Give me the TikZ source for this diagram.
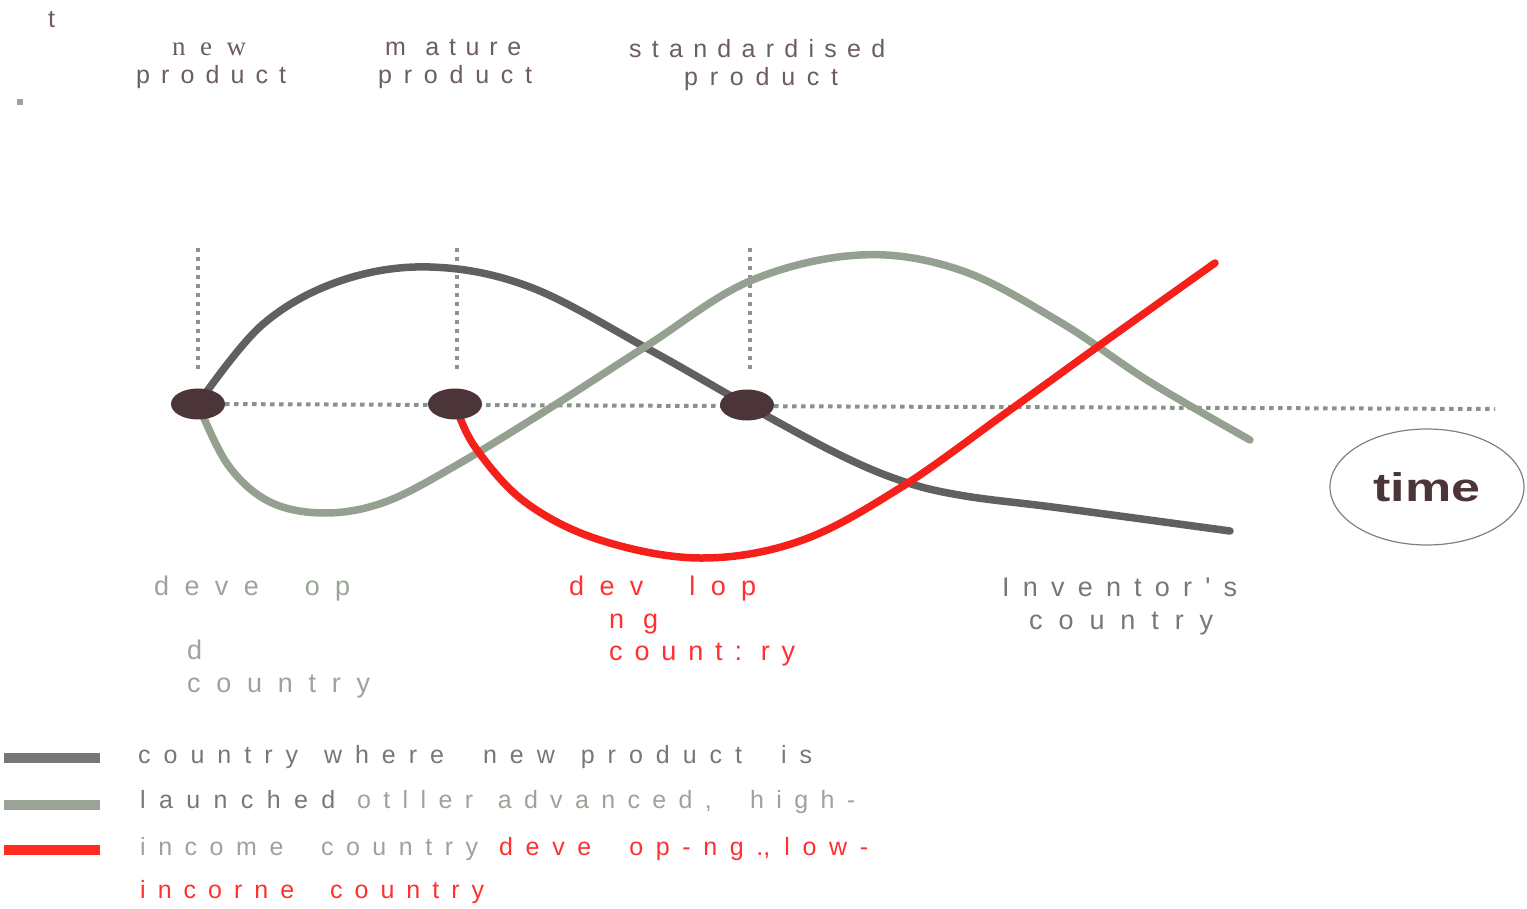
\documentclass[tikz,border=0pt]{standalone}
\usepackage{fontspec}
\usepackage{graphicx}
\usetikzlibrary{shapes.geometric}
\setmainfont{Liberation Sans}
\newfontfamily\serifx{Liberation Serif}
\newfontfamily\nomap{Liberation Sans}
\definecolor{darkc}{HTML}{606060}
\definecolor{greenc}{HTML}{95A190}
\definecolor{redc}{HTML}{F5201A}
\definecolor{dotc}{HTML}{4B3538}
\definecolor{gridc}{HTML}{8A9387}
\definecolor{mauvet}{HTML}{6E5C60}
\definecolor{greent}{HTML}{9AA597}
\definecolor{grayt}{HTML}{777777}
\definecolor{redt}{HTML}{FF3030}
\definecolor{bargray}{HTML}{777777}
\definecolor{bargreen}{HTML}{9BA396}
\definecolor{barred}{HTML}{FF2A20}
\begin{document}
\begin{tikzpicture}[x=1pt,y=-1pt,
  lbl/.style={inner sep=0pt, anchor=base west, font=\fontsize{25}{30}\selectfont},
  biglbl/.style={inner sep=0pt, anchor=base west, font=\fontsize{27}{32}\selectfont},
  dotnode/.style={ellipse, fill=dotc, minimum width=54pt, minimum height=31pt, inner sep=0pt},
  gridline/.style={gridc, line width=4pt, dash pattern=on 4.5pt off 4.5pt},
  curve/.style={line width=7.5pt, line cap=round, smooth, tension=0.6},
  legbar/.style={inner sep=0pt, minimum width=96pt, minimum height=10pt, anchor=west}
]
\useasboundingbox (0,0) rectangle (1527,909);
% top-left marks
\node[lbl, text=mauvet] (t) at (48,28) {t};
\node[fill=greent, minimum size=6pt, inner sep=0pt] (sq) at (20,102) {};
% top labels
\node[lbl, text=mauvet, font=\serifx\fontsize{27}{30}\selectfont] (new1) at (172,56) {\makebox[74pt][s]{n e w}};
\node[lbl, text=mauvet] (prod1) at (136,84) {\makebox[150pt][s]{p r o d u c t}};
\node[lbl, text=mauvet] (mat) at (385,56) {\makebox[136pt][s]{m \ a t u r e}};
\node[lbl, text=mauvet] (prod2) at (378,84) {\makebox[154pt][s]{p r o d u c t}};
\node[lbl, text=mauvet] (std) at (629,58) {\makebox[256pt][s]{s t a n d a r d i s e d}};
\node[lbl, text=mauvet] (prod3) at (684,86) {\makebox[154pt][s]{p r o d u c t}};
% grid
\coordinate (p1) at (198,404);
\coordinate (p2) at (455,404);
\coordinate (p3) at (747,405);
\coordinate (v1t) at (198,248); \coordinate (v1b) at (198,372);
\coordinate (v2t) at (457,248); \coordinate (v2b) at (457,372);
\coordinate (v3t) at (750,248); \coordinate (v3b) at (750,372);
\coordinate (hend) at (1495,409);
\draw[gridline] (v1t) -- (v1b);
\draw[gridline] (v2t) -- (v2b);
\draw[gridline] (v3t) -- (v3b);
\draw[gridline] (p1) -- (hend);
% curves
\draw[curve, darkc] plot coordinates {(p1) (262,325) (340,281) (430,267) (530,287) (650,350) (p3) (840,455) (905,482) (965,496) (1060,508) (1230,531)};
\draw[curve, greenc] plot coordinates {(p1) (228,465) (270,502) (325,513) (385,502) (455,466) (550,408) (648,345) (750,281) (860,255) (960,270) (1060,322) (1150,382) (1250,440)};
\draw[curve, redc] plot coordinates {(p2) (475,447) (525,502) (600,540) (700,558) (800,541) (900,488) (1010,410) (1100,345) (1215,263)};
% dots
\node[dotnode] (d1) at (p1) {};
\node[dotnode] (d2) at (p2) {};
\node[dotnode] (d3) at (p3) {};
% time
\node[ellipse, draw=gray, line width=1.2pt, minimum width=194pt, minimum height=116pt, inner sep=0pt] (time) at (1427,487) {};
\node[inner sep=0pt, text=dotc, font=\bfseries\fontsize{40}{40}\selectfont] (timet) at (time.center) {\scalebox{1.3}[1]{time}};
% bottom labels
\node[biglbl, text=greent] (dv1) at (154,595) {\makebox[196pt][s]{d e v e \ \ o p}};
\node[biglbl, text=greent] (dv2) at (187,659) {d};
\node[biglbl, text=greent] (dv3) at (187,692) {\makebox[183pt][s]{c o u n t r y}};
\node[biglbl, text=redt] (dg1) at (569,595) {\makebox[187pt][s]{d e v \ \ l o p}};
\node[biglbl, text=redt] (dg2) at (609,628) {\makebox[49pt][s]{n g}};
\node[biglbl, text=redt] (dg3) at (609,660) {\makebox[186pt][s]{c o u n t : r y}};
\node[biglbl, text=grayt] (inv1) at (1002,596) {\makebox[235pt][s]{I n v e n t o r {\nomap '} s}};
\node[biglbl, text=grayt] (inv2) at (1029,629) {\makebox[184pt][s]{c o u n t r y}};
% legend
\node[legbar, fill=bargray] (b1) at (4,758) {};
\node[legbar, fill=bargreen] (b2) at (4,805) {};
\node[legbar, fill=barred] (b3) at (4,850) {};
\node[lbl, text=grayt] (l1) at (138,763) {\makebox[674pt][s]{c o u n t r y \ w h e r e \ \ n e w \ p r o d u c t \ \ i s}};
\node[lbl, text=grayt] (l2a) at (140,808) {\makebox[195pt][s]{l a u n c h e d}};
\node[lbl, text=greent] (l2b) at (357,808) {\makebox[498pt][s]{o t l l e r \ a d v a n c e d , \ \ h i g h -}};
\node[lbl, text=greent] (l3a) at (140,855) {\makebox[338pt][s]{i n c o m e \ \ c o u n t r y}};
\node[lbl, text=redt] (l3b) at (499,855) {\makebox[369pt][s]{d e v e \ \ o p - n g ., l o w -}};
\node[lbl, text=redt] (l4) at (140,898) {\makebox[344pt][s]{i n c o r n e \ \ c o u n t r y}};
\end{tikzpicture}
\end{document}
